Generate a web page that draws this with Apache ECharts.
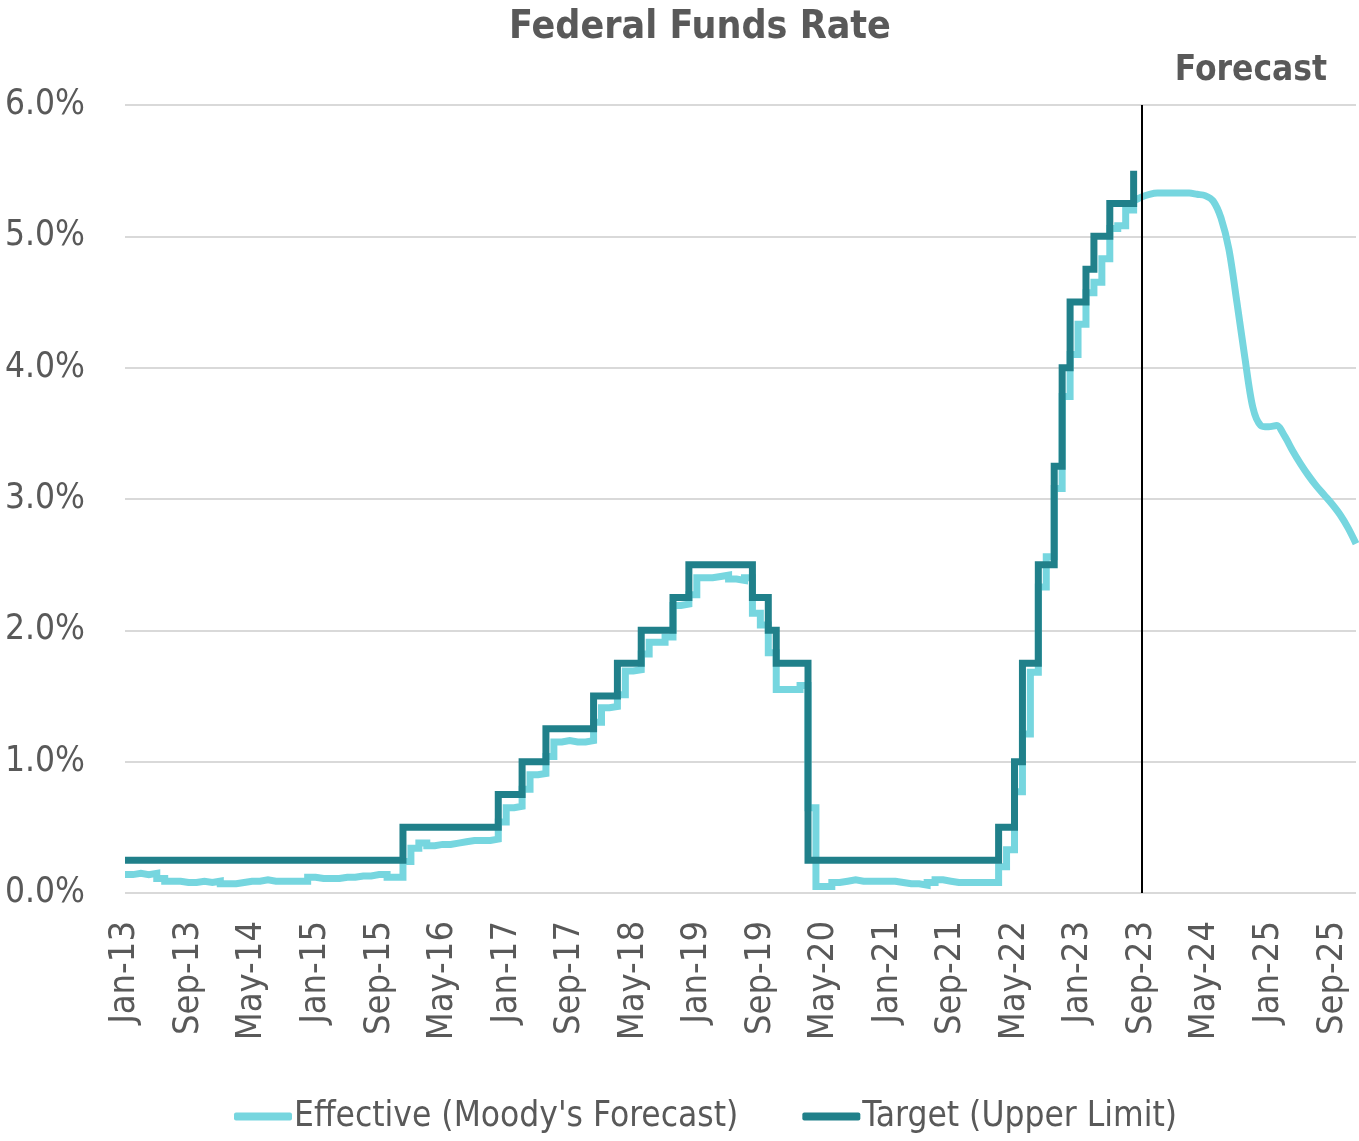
<!DOCTYPE html>
<html lang="en">
<head>
    <meta charset="UTF-8">
    <title>Federal Funds Rate</title>
    <script src="https://cdn.jsdelivr.net/npm/echarts@6/dist/echarts.min.js"></script>
    <style>
        html, body { margin: 0; padding: 0; background: #fff; }
        #main { width: 1359px; height: 1141px; }
    </style>
</head>
<body>
    <div id="main"></div>
    <script>
        // monthly categories Jan-13 .. Dec-25
        var monthNames = ['Jan', 'Feb', 'Mar', 'Apr', 'May', 'Jun', 'Jul', 'Aug', 'Sep', 'Oct', 'Nov', 'Dec'];
        var years = [13, 14, 15, 16, 17, 18, 19, 20, 21, 22, 23, 24, 25];
        var months = [];
        years.forEach(function (y) {
            monthNames.forEach(function (m) { months.push(m + '-' + y); });
        });

        // target range upper limit, Jan-13 .. Aug-23
        var targetUpper = [
            0.25, 0.25, 0.25, 0.25, 0.25, 0.25, 0.25, 0.25, 0.25, 0.25, 0.25, 0.25,
            0.25, 0.25, 0.25, 0.25, 0.25, 0.25, 0.25, 0.25, 0.25, 0.25, 0.25, 0.25,
            0.25, 0.25, 0.25, 0.25, 0.25, 0.25, 0.25, 0.25, 0.25, 0.25, 0.25, 0.5,
            0.5, 0.5, 0.5, 0.5, 0.5, 0.5, 0.5, 0.5, 0.5, 0.5, 0.5, 0.75,
            0.75, 0.75, 1.0, 1.0, 1.0, 1.25, 1.25, 1.25, 1.25, 1.25, 1.25, 1.5,
            1.5, 1.5, 1.75, 1.75, 1.75, 2.0, 2.0, 2.0, 2.0, 2.25, 2.25, 2.5,
            2.5, 2.5, 2.5, 2.5, 2.5, 2.5, 2.5, 2.25, 2.25, 2.0, 1.75, 1.75,
            1.75, 1.75, 0.25, 0.25, 0.25, 0.25, 0.25, 0.25, 0.25, 0.25, 0.25, 0.25,
            0.25, 0.25, 0.25, 0.25, 0.25, 0.25, 0.25, 0.25, 0.25, 0.25, 0.25, 0.25,
            0.25, 0.25, 0.5, 0.5, 1.0, 1.75, 1.75, 2.5, 2.5, 3.25, 4.0, 4.5,
            4.5, 4.75, 5.0, 5.0, 5.25, 5.25, 5.25, 5.5
        ];

        // effective rate, actual, Jan-13 .. Aug-23
        var effectiveActual = [
            0.14, 0.15, 0.14, 0.15, 0.11, 0.09, 0.09, 0.08, 0.08, 0.09, 0.08, 0.09,
            0.07, 0.07, 0.08, 0.09, 0.09, 0.10, 0.09, 0.09, 0.09, 0.09, 0.09, 0.12,
            0.11, 0.11, 0.11, 0.12, 0.12, 0.13, 0.13, 0.14, 0.14, 0.12, 0.12, 0.24,
            0.34, 0.38, 0.36, 0.37, 0.37, 0.38, 0.39, 0.40, 0.40, 0.40, 0.41, 0.54,
            0.65, 0.66, 0.79, 0.90, 0.91, 1.04, 1.15, 1.16, 1.15, 1.15, 1.16, 1.30,
            1.41, 1.42, 1.51, 1.69, 1.70, 1.82, 1.91, 1.91, 1.95, 2.19, 2.20, 2.27,
            2.40, 2.40, 2.41, 2.42, 2.39, 2.38, 2.40, 2.13, 2.04, 1.83, 1.55, 1.55,
            1.55, 1.58, 0.65, 0.05, 0.05, 0.08, 0.09, 0.10, 0.09, 0.09, 0.09, 0.09,
            0.09, 0.08, 0.07, 0.07, 0.06, 0.08, 0.10, 0.09, 0.08, 0.08, 0.08, 0.08,
            0.08, 0.08, 0.20, 0.33, 0.77, 1.21, 1.68, 2.33, 2.56, 3.08, 3.78, 4.10,
            4.33, 4.57, 4.65, 4.83, 5.06, 5.08, 5.20, 5.27
        ];

        // Moody's forecast of the effective rate, Aug-23 .. Dec-25
        var forecastStart = 'Aug-23';
        var effectiveForecast = [
            5.27, 5.30, 5.32, 5.33, 5.33, 5.33, 5.33, 5.33, 5.32, 5.31,
            5.27, 5.14, 4.90, 4.50, 4.08, 3.70, 3.56, 3.55, 3.56, 3.48,
            3.37, 3.27, 3.18, 3.10, 3.03, 2.96, 2.88, 2.78, 2.66
        ];
        var forecastLine = 'Sep-23';

        var LIGHT = '#76D6DF';
        var DARK = '#20808A';
        var TEXT = '#595959';
        var FONT = "'DejaVu Sans Condensed', 'Liberation Sans', sans-serif";

        var startIdx = months.indexOf(forecastStart);
        var forecastData = months.map(function (m, i) {
            return i < startIdx ? null : effectiveForecast[i - startIdx];
        });

        var myChart = echarts.init(document.getElementById('main'));
        var option = {
            animation: false,
            textStyle: { fontFamily: FONT },
            title: [
                {
                    text: 'Federal Funds Rate',
                    left: 695,
                    top: 3,
                    textAlign: 'center',
                    textStyle: { fontFamily: FONT, fontSize: 39, fontWeight: 'bold', color: TEXT }
                },
                {
                    text: 'Forecast',
                    left: 1246,
                    top: 48,
                    textAlign: 'center',
                    textStyle: { fontFamily: FONT, fontSize: 35, fontWeight: 'bold', color: TEXT }
                }
            ],
            legend: {
                left: 229,
                top: 1094,
                itemGap: 64,
                itemWidth: 58,
                itemHeight: 8,
                icon: 'roundRect',
                textStyle: { fontFamily: FONT, fontSize: 35, color: TEXT, padding: [0, 0, 0, -3] },
                data: ["Effective (Moody's Forecast)", 'Target (Upper Limit)']
            },
            grid: { left: 125, right: 3, top: 105, bottom: 248, outerBoundsMode: 'none' },
            xAxis: {
                type: 'category',
                boundaryGap: false,
                data: months,
                axisLine: { show: false },
                axisTick: { show: false },
                axisLabel: {
                    interval: 7,
                    rotate: 90,
                    margin: 28,
                    fontSize: 36,
                    fontFamily: FONT,
                    color: TEXT
                }
            },
            yAxis: {
                type: 'value',
                min: 0,
                max: 6,
                interval: 1,
                axisLine: { show: false },
                axisTick: { show: false },
                splitLine: { lineStyle: { color: '#d9d9d9', width: 2 } },
                axisLabel: {
                    margin: 40,
                    fontSize: 35,
                    fontFamily: FONT,
                    color: TEXT,
                    formatter: function (v) { return v.toFixed(1) + '%'; }
                }
            },
            series: [
                {
                    name: "Effective (Moody's Forecast)",
                    type: 'line',
                    step: 'end',
                    showSymbol: false,
                    data: effectiveActual,
                    itemStyle: { color: LIGHT },
                    lineStyle: { color: LIGHT, width: 7, join: 'miter' }
                },
                {
                    name: "Effective (Moody's Forecast)",
                    type: 'line',
                    smooth: 0.3,
                    showSymbol: false,
                    data: forecastData,
                    itemStyle: { color: LIGHT },
                    lineStyle: { color: LIGHT, width: 7 }
                },
                {
                    name: 'Target (Upper Limit)',
                    type: 'line',
                    step: 'end',
                    showSymbol: false,
                    data: targetUpper,
                    itemStyle: { color: DARK },
                    lineStyle: { color: DARK, width: 7, join: 'miter' },
                    markLine: {
                        silent: true,
                        symbol: ['none', 'none'],
                        label: { show: false },
                        lineStyle: { color: '#000', width: 2, type: 'solid' },
                        data: [{ xAxis: forecastLine }]
                    }
                }
            ]
        };
        myChart.setOption(option);
    </script>
</body>
</html>
